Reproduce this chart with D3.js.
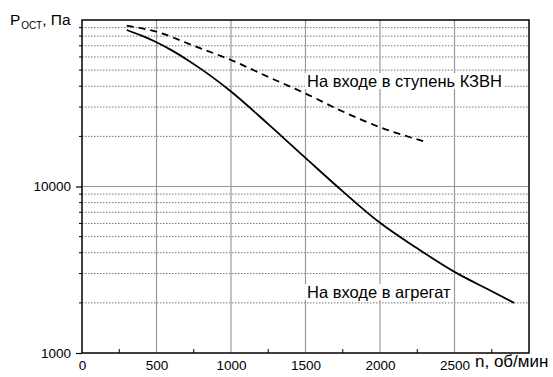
<!DOCTYPE html>
<html><head><meta charset="utf-8">
<script src="https://cdn.jsdelivr.net/npm/d3@7"></script>
<style>body{margin:0;background:#fff}text{font-family:"Liberation Sans",Arial,sans-serif}</style>
</head><body><svg id="c" width="553" height="377"></svg>
<script>
const xTicks = [0, 500, 1000, 1500, 2000, 2500];
const yTicks = [1000, 10000];
const nAgg = [300, 400, 500, 600, 700, 800, 900, 1000, 1250, 1500, 1750, 2000, 2250, 2500, 2750, 2900];
const pAgg = [87100, 80500, 73500, 65900, 58200, 50700, 43700, 37200, 23700, 14850, 9350, 6050, 4250, 3070, 2350, 2000];
const nStage = [300, 500, 750, 1000, 1250, 1500, 1750, 2000, 2300];
const pStage = [92500, 85000, 70000, 57500, 45500, 36200, 28200, 22700, 18600];
const labelAgg = "На входе в агрегат";
const labelStage = "На входе в ступень КЗВН";

const svg = d3.select("#c");
const L = 82, R = 529, T = 20, B = 353;
const x = d3.scaleLinear().domain([0, 3000]).range([L, R]);
const y = d3.scaleLog().domain([1000, 100000]).range([B, T]);

// minor grid (dotted)
const minors = [];
for (const d of [1000, 10000]) for (let k = 2; k <= 9; k++) minors.push(d * k);
svg.append("g").selectAll("line").data(minors).join("line")
  .attr("x1", L).attr("x2", R).attr("y1", d => y(d)).attr("y2", d => y(d))
  .attr("stroke", "#555").attr("stroke-width", 0.8).attr("stroke-dasharray", "1.5,1.5");
// major grid
svg.append("line").attr("x1", L).attr("x2", R).attr("y1", y(10000)).attr("y2", y(10000))
  .attr("stroke", "#999").attr("stroke-width", 1.2);
svg.append("g").selectAll("line").data(xTicks.slice(1)).join("line")
  .attr("x1", d => x(d)).attr("x2", d => x(d)).attr("y1", T).attr("y2", B)
  .attr("stroke", "#999").attr("stroke-width", 1.2);

// curves
const line = d3.line().x(d => x(d[0])).y(d => y(d[1])).curve(d3.curveMonotoneX);
svg.append("path").attr("d", line(nAgg.map((n, i) => [n, pAgg[i]])))
  .attr("fill", "none").attr("stroke", "#000").attr("stroke-width", 1.8);
svg.append("path").attr("d", line(nStage.map((n, i) => [n, pStage[i]])))
  .attr("fill", "none").attr("stroke", "#000").attr("stroke-width", 1.8).attr("stroke-dasharray", "7,5");

// labels with white background
function lab(txt, xx, yy) {
  const g = svg.append("g");
  const t = g.append("text").attr("x", xx).attr("y", yy).attr("font-size", 16.5).text(txt);
  const bb = t.node().getBBox();
  g.insert("rect", "text").attr("x", bb.x - 2).attr("y", bb.y + 1).attr("width", bb.width + 4).attr("height", bb.height - 2).attr("fill", "#fff");
}
lab(labelStage, x(1510), 87);
lab(labelAgg, x(1510), 298);

// frame
svg.append("rect").attr("x", L).attr("y", T).attr("width", R - L).attr("height", B - T)
  .attr("fill", "none").attr("stroke", "#000").attr("stroke-width", 1.5);

// x axis
const xa = svg.append("g").attr("transform", `translate(0,${B})`)
  .call(d3.axisBottom(x).tickValues(xTicks).tickSize(0).tickPadding(7).tickFormat(d3.format("d")));
xa.select(".domain").remove();
xa.selectAll("text").attr("font-size", 13.5).attr("font-family", "Liberation Sans, Arial, sans-serif");
svg.append("g").selectAll("line").data([250, 750, 1250, 1750, 2250, 2750]).join("line")
  .attr("x1", d => x(d)).attr("x2", d => x(d)).attr("y1", B).attr("y2", B - 4)
  .attr("stroke", "#000").attr("stroke-width", 1);

// y axis
const ya = svg.append("g").attr("transform", `translate(${L},0)`)
  .call(d3.axisLeft(y).tickValues(yTicks).tickSize(6).tickPadding(5).tickFormat(d3.format("d")));
ya.select(".domain").remove();
ya.selectAll("line").attr("stroke-width", 1.2);
ya.selectAll("text").attr("font-size", 13.5).attr("font-family", "Liberation Sans, Arial, sans-serif");
svg.append("g").selectAll("line").data(minors).join("line")
  .attr("x1", L - 3).attr("x2", L).attr("y1", d => y(d)).attr("y2", d => y(d))
  .attr("stroke", "#000").attr("stroke-width", 1);

// axis titles
const yl = svg.append("text").attr("x", 10).attr("y", 25).attr("font-size", 15.5);
yl.append("tspan").text("P");
yl.append("tspan").attr("font-size", 10).attr("dy", 4).attr("dx", 1).text("ОСТ");
yl.append("tspan").attr("dy", -4).text(", Па");
svg.append("text").attr("x", 475).attr("y", 367).attr("font-size", 17).text("n, об/мин");
</script></body></html>
